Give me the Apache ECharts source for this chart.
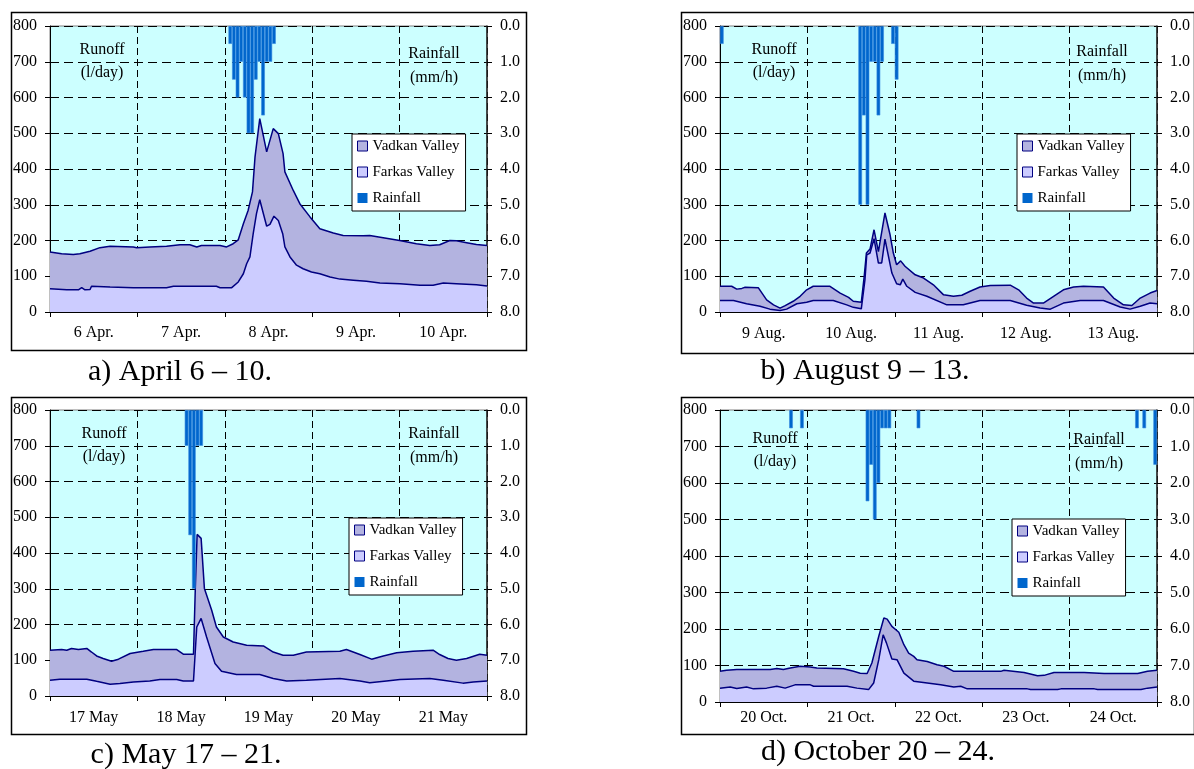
<!DOCTYPE html>
<html>
<head>
<meta charset="utf-8">
<script src="https://cdn.jsdelivr.net/npm/echarts@6/dist/echarts.min.js"></script>
<style>html,body{margin:0;padding:0;background:#fff;}#c{width:1194px;height:769px;}</style>
</head>
<body>
<div id="c"></div>
<script>
// ---- Data (hours from start of 5-day window, value) ----
const daysA = ['6 Apr.', '7 Apr.', '8 Apr.', '9 Apr.', '10 Apr.'];
const daysB = ['9 Aug.', '10 Aug.', '11 Aug.', '12 Aug.', '13 Aug.'];
const daysC = ['17 May', '18 May', '19 May', '20 May', '21 May'];
const daysD = ['20 Oct.', '21 Oct.', '22 Oct.', '23 Oct.', '24 Oct.'];

const vadkanA = [[0,168],[3.2,163],[6.4,161],[8.2,163],[11,170],[13.7,180],[16.5,184],[22.9,182],[23.8,180],[27.4,182],[32,184],[35.7,188],[38.4,188],[40.3,182],[41.6,186],[46.7,186],[48.5,182],[50.3,191],[51.7,202],[53.1,247],[54.4,284],[55.6,336],[56.3,434],[57.6,541],[59.5,448],[61.3,513],[62.7,499],[64,443],[64.5,392],[66.8,340],[68.6,303],[71.4,266],[74.1,233],[77.8,221],[80.5,214],[86,213],[87.8,214],[91.5,208],[96,200],[100.6,191],[104.3,186],[107,188],[109.8,200],[111.6,199],[114.4,194],[117.1,189],[120,186]];
const farkasA = [[0,65],[4.6,62],[7.8,62],[8.7,68],[9.6,62],[11,63],[11.4,72],[16.5,70],[22.9,68],[32,68],[33.9,72],[45.7,72],[46.7,68],[49.9,68],[51.7,84],[53.1,107],[54,135],[54.9,154],[55.8,219],[56.7,275],[57.6,314],[58.6,275],[59.5,240],[60.4,245],[61.5,268],[62.7,256],[63.9,219],[64.5,182],[65.9,154],[67.7,131],[69.5,121],[71.8,112],[74.1,107],[76.9,98],[79.6,92],[83.3,89],[86.9,86],[90.6,81],[96.1,79],[101.6,75],[105.2,75],[108,81],[111.6,79],[117.1,76],[120,73]];
const rainHoursA = [49,50,51,52,53,54,55,56,57,58,59,60,61];
const rainA = [0.5,1.5,2.0,1.0,2.0,3.0,3.0,1.5,1.0,2.5,1.0,1.0,0.5];

const vadkanB = [[0,72],[3.2,72],[4.6,64],[6,66],[6.9,69],[10.5,68],[12.8,34],[14.7,20],[16.5,11],[17.9,18],[20.1,30],[22,44],[23.8,62],[25.6,72],[30.2,72],[33,53],[35.3,41],[36.6,30],[38.8,27],[39.6,100],[40.2,165],[41.2,176],[42.3,230],[43.5,169],[45.3,277],[46.7,216],[47.6,165],[48.5,132],[49.6,143],[50.8,128],[53.6,104],[55.9,95],[58.6,76],[61.4,48],[64.1,44],[66.4,47],[68.7,58],[71.4,70],[74.2,74],[79.7,75],[82,62],[84.2,39],[86.1,25],[88.8,25],[91.6,44],[94.3,62],[97.1,70],[99.8,72],[105.3,70],[108.1,39],[110.8,20],[113.1,18],[115.4,39],[118.1,53],[120,60]];
const farkasB = [[0,32],[3.7,32],[7.3,23],[11,16],[13.7,8],[16.5,4],[18.3,8],[21.1,23],[23.8,27],[25.6,32],[31.1,32],[34.8,20],[36.6,13],[38.8,9],[39.8,90],[40.3,160],[41.2,165],[42.3,205],[43.5,137],[44.4,137],[45.3,204],[47.2,109],[48.5,79],[49.5,76],[50.2,92],[51.3,72],[53.6,55],[56.8,44],[62.3,20],[66.8,20],[71.4,32],[79.7,32],[84.2,19],[87.9,11],[90.7,8],[94.3,25],[98.9,32],[105.3,32],[109.9,14],[112.6,8],[115.4,16],[118.1,25],[120,23]];
const rainHoursB = [0,38,39,40,41,42,43,44,47,48];
const rainB = [0.5,5.0,2.5,5.0,1.0,1.0,2.5,1.0,0.5,1.5];

const vadkanC = [[0,128],[3.2,130],[4.6,128],[5.9,133],[7.8,130],[10.1,133],[11.4,123],[12.8,112],[14.6,105],[16.9,97],[18.8,103],[22,119],[25.6,125],[28.4,130],[34.8,130],[36.6,117],[39.4,117],[39.9,300],[40.4,452],[41.5,441],[42.4,301],[44.4,240],[45.7,193],[47.6,165],[50.3,151],[54,142],[58.6,140],[61.3,123],[64,114],[66.8,114],[70.4,123],[79.6,125],[81.4,130],[85.1,116],[88.3,103],[91.5,112],[95.2,121],[99.7,125],[105.2,128],[107,116],[109.3,105],[111.6,100],[114.4,105],[118,117],[120,114]];
const farkasC = [[0,44],[2.7,47],[10.1,47],[12.8,41],[16.5,33],[19.2,35],[22.9,39],[27.4,42],[30.2,46],[34.8,46],[36.6,42],[39.4,42],[40.3,193],[41.5,217],[43,165],[45.3,91],[47.1,69],[51.2,60],[57.6,60],[61.3,49],[65,42],[70.4,44],[79.6,49],[85.1,42],[87.8,37],[92.4,42],[96.1,46],[104.3,49],[108,44],[113.4,36],[116.2,39],[120,42]];
const rainHoursC = [37,38,39,40,41];
const rainC = [1.0,3.5,5.0,1.0,1.0];

const vadkanD = [[0,84],[1.8,87],[4.6,89],[13.8,89],[15.6,92],[17.4,89],[19.3,93],[22,98],[24.8,96],[26.6,93],[33.9,91],[36.7,84],[38.5,79],[40.4,78],[41.7,107],[43.6,180],[45,230],[45.9,227],[47.2,207],[49.1,191],[50.5,157],[51.8,134],[53.2,125],[54.1,116],[56.9,111],[59.6,102],[61.5,98],[64.2,84],[77.1,84],[78,87],[83.5,81],[87.2,72],[89,73],[91.7,81],[100,81],[105.5,78],[114.7,78],[117.4,84],[120,87]];
const farkasD = [[0,38],[2.8,41],[4.6,37],[7.3,41],[9.2,36],[12.8,38],[15.6,43],[17.9,38],[20.6,47],[24.8,47],[25.7,43],[34.9,43],[37.6,38],[40.8,34],[42.2,52],[43.6,116],[44.8,184],[45.7,162],[47.2,118],[48.6,116],[50.5,79],[53.2,57],[56.9,52],[60.6,47],[64.2,41],[66.1,43],[67.9,36],[84.4,36],[85.3,34],[92.7,34],[93.6,36],[102.8,36],[103.7,34],[115.6,34],[117.4,38],[120,41]];
const rainHoursD = [19,22,40,41,42,43,44,45,46,54,114,116,119];
const rainD = [0.5,0.5,2.5,1.5,3.0,2.0,0.5,0.5,0.5,0.5,0.5,0.5,1.5];

const captions = ['a) April 6 \u2013 10.', 'b) August 9 \u2013 13.', 'c) May 17 \u2013 21.', 'd) October 20 \u2013 24.'];

// ---- Layout / style ----
const FONT = '"Liberation Serif", "Times New Roman", serif';
const panels = [
  {days: daysA, vad: vadkanA, far: farkasA, rh: rainHoursA, rv: rainA, grid: {left: 50, top: 26, width: 437, height: 286}, lblMargin: 13,
   box: [9, 10, 515, 338], cap: [180, 372], runoff: [102, 61.5], rainfall: [434, 65.5], legend: [352, 134]},
  {days: daysB, vad: vadkanB, far: farkasB, rh: rainHoursB, rv: rainB, grid: {left: 720, top: 26, width: 437, height: 286}, lblMargin: 14,
   box: [679, 10, 513, 341], cap: [865, 371], runoff: [774, 61.5], rainfall: [1102, 64], legend: [1017, 134]},
  {days: daysC, vad: vadkanC, far: farkasC, rh: rainHoursC, rv: rainC, grid: {left: 50, top: 410, width: 437, height: 286}, lblMargin: 14,
   box: [9, 395, 515, 337], cap: [186, 755], runoff: [104, 445], rainfall: [434, 446], legend: [349, 518]},
  {days: daysD, vad: vadkanD, far: farkasD, rh: rainHoursD, rv: rainD, grid: {left: 720, top: 410, width: 437, height: 292}, lblMargin: 8,
   box: [679, 395, 513, 337], cap: [878, 752], runoff: [775, 450], rainfall: [1099, 451.5], legend: [1012, 519]}
];

const grids = [], xAxes = [], yAxes = [], series = [], legends = [], graphics = [];
const names = ['Vadkan Valley', 'Farkas Valley', 'Rainfall'];

panels.forEach((p, i) => {
  grids.push(Object.assign({show: true, backgroundColor: '#CCFFFF', borderColor: '#808080', borderWidth: 1}, p.grid));
  xAxes.push({
    type: 'value', gridIndex: i, min: 0, max: 120, interval: 24,
    axisLabel: {show: false},
    axisLine: {show: true, onZero: false, lineStyle: {color: '#000', width: 1}},
    axisTick: {show: true, length: 5, lineStyle: {color: '#000'}},
    splitLine: {show: true, lineStyle: {color: '#000', type: [7, 4], width: 1}}
  });
  xAxes.push({
    type: 'category', gridIndex: i, data: p.days, position: 'bottom', boundaryGap: true,
    axisLine: {show: false}, axisTick: {show: false}, splitLine: {show: false},
    axisLabel: {margin: p.lblMargin, fontFamily: FONT, fontSize: 16, color: '#000'}
  });
  yAxes.push({
    type: 'value', gridIndex: i, min: 0, max: 800, interval: 100, position: 'left',
    axisLine: {show: true, onZero: false, lineStyle: {color: '#000'}},
    axisTick: {show: true, length: 5, lineStyle: {color: '#000'}},
    axisLabel: {margin: 13, fontFamily: FONT, fontSize: 16, color: '#000'},
    splitLine: {show: true, lineStyle: {color: '#000', type: [9, 5], width: 1}}
  });
  yAxes.push({
    type: 'value', gridIndex: i, min: 0, max: 8, interval: 1, inverse: true, position: 'right',
    axisLine: {show: true, onZero: false, lineStyle: {color: '#222', width: 1.5}},
    axisTick: {show: true, length: 5, lineStyle: {color: '#000'}},
    axisLabel: {margin: 13, fontFamily: FONT, fontSize: 16, color: '#000', formatter: v => v.toFixed(1)},
    splitLine: {show: false}
  });
  series.push({
    name: names[0], type: 'line', xAxisIndex: 2 * i, yAxisIndex: 2 * i, data: p.vad,
    showSymbol: false, symbol: 'none', z: 2, animation: false,
    lineStyle: {color: '#000080', width: 1.5}, itemStyle: {color: '#B3B3E0'},
    areaStyle: {color: '#B3B3E0', opacity: 1}
  });
  series.push({
    name: names[1], type: 'line', xAxisIndex: 2 * i, yAxisIndex: 2 * i, data: p.far,
    showSymbol: false, symbol: 'none', z: 3, animation: false,
    lineStyle: {color: '#000080', width: 1.5}, itemStyle: {color: '#CCCCFF'},
    areaStyle: {color: '#CCCCFF', opacity: 1}
  });
  series.push({
    name: names[2], type: 'bar', xAxisIndex: 2 * i, yAxisIndex: 2 * i + 1,
    data: p.rh.map((h, k) => [h + 0.5, p.rv[k]]),
    barWidth: p.grid.width / 120, z: 4, animation: false,
    itemStyle: {color: '#0066CC', borderColor: '#3A8BE0', borderWidth: 0.6}
  });
  legends.push({
    orient: 'vertical', left: p.legend[0], top: p.legend[1],
    backgroundColor: '#fff', borderColor: '#000', borderWidth: 1,
    padding: [4, 6, 5, 5], itemGap: 10, itemWidth: 10, itemHeight: 10,
    selectedMode: false,
    textStyle: {fontFamily: FONT, fontSize: 15, color: '#000', lineHeight: 16},
    data: [
      {name: names[0], icon: 'rect', itemStyle: {color: '#B3B3E0', borderColor: '#000080', borderWidth: 1}},
      {name: names[1], icon: 'rect', itemStyle: {color: '#CCCCFF', borderColor: '#000080', borderWidth: 1}},
      {name: names[2], icon: 'rect', itemStyle: {color: '#0066CC', borderWidth: 0}}
    ]
  });
  graphics.push({type: 'rect', left: p.box[0], top: p.box[1], shape: {width: p.box[2], height: p.box[3]},
    style: {fill: null, stroke: '#000', lineWidth: 1.5}, z: 0, silent: true});
  graphics.push({type: 'text', x: p.cap[0], y: p.cap[1],
    style: {text: captions[i], font: '30px ' + FONT, fill: '#000', textAlign: 'center', textVerticalAlign: 'middle'}, z: 10});
  graphics.push({type: 'text', x: p.runoff[0], y: p.runoff[1],
    style: {text: 'Runoff\n(l/day)', font: '16px ' + FONT, lineHeight: 23, fill: '#000', textAlign: 'center', textVerticalAlign: 'middle'}, z: 10});
  graphics.push({type: 'text', x: p.rainfall[0], y: p.rainfall[1],
    style: {text: 'Rainfall\n(mm/h)', font: '16px ' + FONT, lineHeight: 24, fill: '#000', textAlign: 'center', textVerticalAlign: 'middle'}, z: 10});
});

const chart = echarts.init(document.getElementById('c'), null, {renderer: 'canvas'});
chart.setOption({
  animation: false,
  backgroundColor: '#fff',
  grid: grids, xAxis: xAxes, yAxis: yAxes, series: series, legend: legends, graphic: graphics
});
</script>
</body>
</html>
